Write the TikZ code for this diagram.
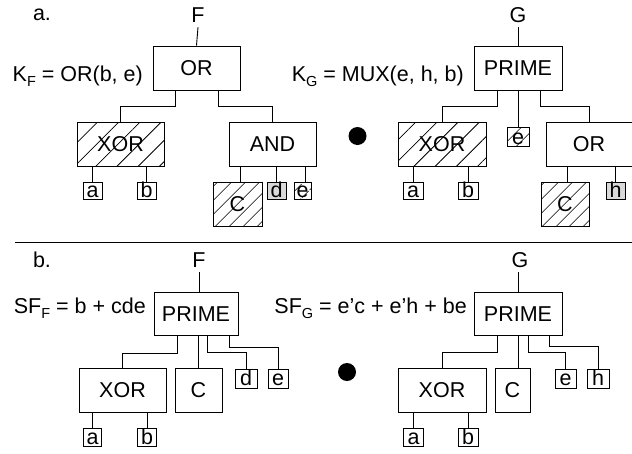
\documentclass[tikz,border=0pt]{standalone}
\usepackage{fontspec}
\setmainfont{Liberation Sans}
\usetikzlibrary{patterns.meta}
\newcommand{\lowsub}[1]{\raisebox{-5pt}{\fontsize{14.5}{14.5}\selectfont #1}}

\begin{document}
\begin{tikzpicture}[x=1pt,y=-1pt,
  font=\fontsize{21.5}{25}\selectfont,
  gate/.style={draw, line width=0.9pt, inner sep=0pt, minimum width=87pt, minimum height=44pt, text height=15pt, text depth=0pt},
  leaf/.style={draw, line width=0.9pt, inner sep=0pt, minimum width=19pt, minimum height=17pt, text height=14pt, text depth=0pt},
  hatch/.style={pattern={Lines[angle=45,distance=#1,line width=0.8pt]}},
  hatch/.default=10.5pt,
  grey/.style={fill=black!15},
  wire/.style={draw, line width=0.9pt},
  tag/.style={anchor=base, inner sep=5pt},
  formula/.style={anchor=base east, inner sep=0pt},
  dotmark/.style={circle, fill, inner sep=0pt, minimum size=18pt}]
    \useasboundingbox (0,0) rectangle (632,453);

    % --- a. : tree of F ---
    \node[tag] (labA) at (42,20) {a.};
    \node[tag] (topF) at (198,22) {F};
    \node[gate] (orF) at (196.5,68) {OR};
    \node[formula] (kF) at (143,81) {K\lowsub{F} = OR(b, e)};
    \node[gate, hatch=15pt] (xorF) at (120.5,144) {XOR};
    \node[gate] (andF) at (272.5,144) {AND};
    \node[leaf] (aF) at (92.5,190.5) {a};
    \node[leaf] (bF) at (146.5,190.5) {b};
    \node[gate, hatch, minimum width=49pt] (cF) at (237.5,204) {C};
    \node[leaf, grey] (dF) at (276.5,190.5) {d};
    \node[leaf, hatch, minimum width=17pt] (eF) at (302.5,190.5) {e};

    \draw[wire] (topF.south) -- (orF.north);
    \draw[wire] ([xshift=-21.5pt]orF.south) -- ++(0,16) -| (xorF.north);
    \draw[wire] ([xshift=21.5pt]orF.south) -- ++(0,16) -| (andF.north);
    \draw[wire] (aF.north) -- (aF.north |- xorF.south);
    \draw[wire] (bF.north) -- (bF.north |- xorF.south);
    \draw[wire] ([xshift=2.5pt]cF.north) -- ([xshift=2.5pt]cF.north |- andF.south);
    \draw[wire] (dF.north) -- (dF.north |- andF.south);
    \draw[wire] ([xshift=3pt]eF.north) -- ([xshift=3pt]eF.north |- andF.south);

    \node[dotmark] (dotA) at (357.5,136) {};

    % --- a. : tree of G ---
    \node[tag] (topG) at (518,22) {G};
    \node[gate, minimum width=88pt] (primeG) at (518,68) {PRIME};
    \node[formula] (kG) at (464,81) {K\lowsub{G} = MUX(e, h, b)};
    \node[gate, hatch=15pt, minimum width=88pt] (xorG) at (442,144) {XOR};
    \node[leaf, hatch, minimum width=22pt, minimum height=19pt] (eG) at (518,137) {e};
    \node[gate, minimum width=86pt] (orG) at (589,144) {OR};
    \node[leaf, minimum width=20pt] (aG) at (413,190.5) {a};
    \node[leaf, minimum width=20pt] (bG) at (468,190.5) {b};
    \node[gate, hatch, minimum width=48pt] (cG) at (565,204) {C};
    \node[leaf, grey] (hG) at (615.5,190.5) {h};

    \draw[wire] (topG.south) -- (primeG.north);
    \draw[wire] ([xshift=-21pt]primeG.south) -- ++(0,16) -| (xorG.north);
    \draw[wire] (primeG.south) -- (eG.north);
    \draw[wire] ([xshift=22pt]primeG.south) -- ++(0,16) -| (orG.north);
    \draw[wire] (aG.north) -- (aG.north |- xorG.south);
    \draw[wire] (bG.north) -- (bG.north |- xorG.south);
    \draw[wire] ([xshift=2pt]cG.north) -- ([xshift=2pt]cG.north |- orG.south);
    \draw[wire] (hG.north) -- (hG.north |- orG.south);

    % separator
    \coordinate (sepL) at (15,242);
    \coordinate (sepR) at (632,242);
    \draw[wire] (sepL) -- (sepR);

    % --- b. : tree of F ---
    \node[tag] (labB) at (42,267) {b.};
    \node[tag] (topF2) at (199,267) {F};
    \node[gate, minimum width=84pt, minimum height=43pt] (primeF2) at (196,313.5) {PRIME};
    \node[formula] (sfF) at (146,313) {SF\lowsub{F} = b + cde};
    \node[gate] (xorF2) at (122.5,390) {XOR};
    \node[gate, minimum width=47pt] (cF2) at (198.5,390) {C};
    \node[leaf, minimum width=22pt, minimum height=19pt] (dF2) at (246,378.8) {d};
    \node[leaf, minimum width=20pt, minimum height=19pt] (eF2) at (278,378.8) {e};
    \node[leaf, minimum width=18.5pt, minimum height=18.5pt] (aF2) at (92.5,437.5) {a};
    \node[leaf, minimum width=19pt, minimum height=18.5pt] (bF2) at (147,437.5) {b};

    \draw[wire] (topF2.south) -- (topF2.south |- primeF2.north);
    \draw[wire] ([xshift=-19pt]primeF2.south) -- ++(0,18) -| (xorF2.north);
    \draw[wire] (cF2.north |- primeF2.south) -- (cF2.north);
    \draw[wire] ([xshift=11pt]primeF2.south) -- ++(0,17) -| (dF2.north);
    \draw[wire] ([xshift=33pt]primeF2.south) -- ++(0,12) -| (eF2.north);
    \draw[wire] (aF2.north) -- (aF2.north |- xorF2.south);
    \draw[wire] (bF2.north) -- (bF2.north |- xorF2.south);

    \node[dotmark] (dotB) at (347,372) {};

    % --- b. : tree of G ---
    \node[tag] (topG2) at (520,267) {G};
    \node[gate, minimum width=88pt, minimum height=43pt] (primeG2) at (518,313.5) {PRIME};
    \node[formula] (sfG) at (467,313) {SF\lowsub{G} = e’c + e’h + be};
    \node[gate, minimum width=88pt] (xorG2) at (442,390) {XOR};
    \node[gate, minimum width=35pt] (cG2) at (512.5,390) {C};
    \node[leaf, minimum width=21pt, minimum height=19pt] (eG2) at (565.5,378.8) {e};
    \node[leaf, minimum width=22pt, minimum height=19pt] (hG2) at (598,378.8) {h};
    \node[leaf, minimum width=20pt, minimum height=18.5pt] (aG2) at (413.5,437.5) {a};
    \node[leaf, minimum width=20pt, minimum height=18.5pt] (bG2) at (468,437.5) {b};

    \draw[wire] (primeG2.north) -- (primeG2.north |- topG2.south);
    \draw[wire] ([xshift=-21pt]primeG2.south) -- ++(0,17) -| (xorG2.north);
    \draw[wire] (primeG2.south) -- (primeG2.south |- cG2.north);
    \draw[wire] ([xshift=10pt]primeG2.south) -- ++(0,17) -| (eG2.north);
    \draw[wire] ([xshift=31pt]primeG2.south) -- ++(0,11) -| (hG2.north);
    \draw[wire] (aG2.north) -- (aG2.north |- xorG2.south);
    \draw[wire] (bG2.north) -- (bG2.north |- xorG2.south);
\end{tikzpicture}
\end{document}
